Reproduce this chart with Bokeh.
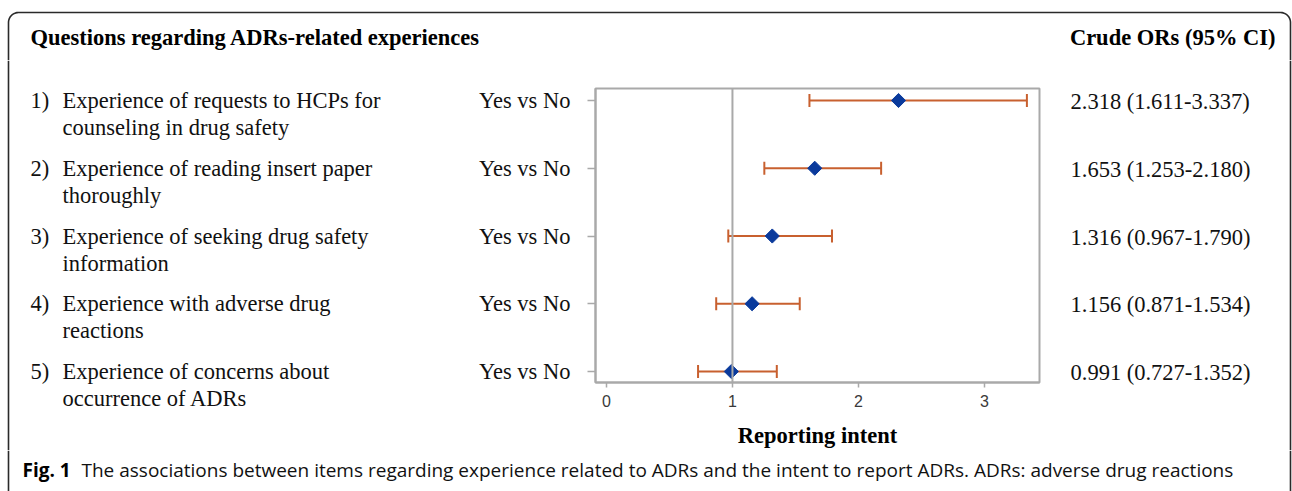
from bokeh.plotting import figure
from bokeh.layouts import column, row
from bokeh.models import Range1d, FixedTicker, LinearAxis, Span, ColumnDataSource
from bokeh.core.properties import value
from bokeh.embed import file_html
from bokeh.resources import INLINE
import math
import numpy as np

# ---------------- data ----------------
numbers = ["1)", "2)", "3)", "4)", "5)"]
question_line1 = [
    "Experience of requests to HCPs for",
    "Experience of reading insert paper",
    "Experience of seeking drug safety",
    "Experience with adverse drug",
    "Experience of concerns about",
]
question_line2 = [
    "counseling in drug safety",
    "thoroughly",
    "information",
    "reactions",
    "occurrence of ADRs",
]
comparison = ["Yes vs No", "Yes vs No", "Yes vs No", "Yes vs No", "Yes vs No"]
odds_ratio = [2.318, 1.653, 1.316, 1.156, 0.991]
ci_low = [1.611, 1.253, 0.967, 0.871, 0.727]
ci_high = [3.337, 2.180, 1.790, 1.534, 1.352]
x_ticks = [0, 1, 2, 3]
title_left = "Questions regarding ADRs-related experiences"
title_right = "Crude ORs (95% CI)"
x_label = "Reporting intent"
caption_bold = "Fig. 1"
caption_text = ("The associations between items regarding experience related to ADRs "
                "and the intent to report ADRs. ADRs: adverse drug reactions")

n = len(odds_ratio)
rows = [n - i for i in range(n)]  # item 1 at the top
or_text = ["%.3f (%.3f-%.3f)" % (o, l, h) for o, l, h in zip(odds_ratio, ci_low, ci_high)]
src = ColumnDataSource(dict(y=rows, o=odds_ratio, lo=ci_low, hi=ci_high))

SERIF = "Liberation Serif"
SANS = "Open Sans"
GRAY = "#a9a9a9"
ORANGE = "#c8602f"
BLUE = "#0a3a9c"
BORDER = "#2a2a2a"
FS = "22.5px"

# ---------------- geometry ----------------
TOTAL_W = 1292
TOP_H = 60            # header strip
MID_H = 390           # forest row
CAP_H = 41            # caption strip
LEFT_W = 470
FOREST_W = 580
RIGHT_W = TOTAL_W - LEFT_W - FOREST_W
F_TOP, F_BOTTOM = 28, 68          # forest frame borders inside the middle row
F_LEFT, F_RIGHT = 125, 11
Y0, Y1 = 0.838, 5.177
ppu = (MID_H - F_TOP - F_BOTTOM) / (Y1 - Y0)
Y_EXT = (Y0 - F_BOTTOM / ppu, Y1 + F_TOP / ppu)   # same mapping, full-height frame


def blank(w, h, xr, yr):
    f = figure(width=w, height=h, output_backend="svg", toolbar_location=None,
               x_range=xr, y_range=yr, min_border=0,
               x_axis_location=None, y_axis_location=None)
    f.frame_align = False
    f.grid.visible = False
    f.outline_line_color = None
    f.background_fill_color = "white"
    f.border_fill_color = "white"
    return f


def txt(f, x, y, t, size=FS, bold=False, align="left", font=SERIF, color="#111111",
        y_offset=0):
    f.text(x=x, y=y, text=t, text_font=value(font), text_font_size=size,
           text_font_style="bold" if bold else "normal", text_align=align,
           text_baseline="middle", text_color=color, y_offset=y_offset)


# ---------------- header strip ----------------
top = blank(TOTAL_W, TOP_H, Range1d(0, TOTAL_W), Range1d(TOP_H, 0))
txt(top, [30], [37], [title_left], bold=True, color="#000000")
txt(top, [1275], [37], [title_right], bold=True, align="right", color="#000000")
r = 10
a1 = np.linspace(math.pi, 1.5 * math.pi, 12)
a2 = np.linspace(1.5 * math.pi, 2 * math.pi, 12)
bx = np.concatenate([[8], 8 + r + r * np.cos(a1), 1290 - r + r * np.cos(a2), [1290]])
by = np.concatenate([[TOP_H], 12 + r + r * np.sin(a1), 12 + r + r * np.sin(a2), [TOP_H]])
top.line(bx, by, line_color=BORDER, line_width=1.6)

# ---------------- left text column ----------------
left = blank(LEFT_W, MID_H, Range1d(0, LEFT_W), Range1d(*Y_EXT))
txt(left, [30] * n, rows, numbers, y_offset=0)
txt(left, [62] * n, rows, question_line1, y_offset=0)
txt(left, [62] * n, rows, question_line2, y_offset=27)
left.segment(x0=[8], x1=[8], y0=[Y_EXT[0]], y1=[Y_EXT[1]], line_color=BORDER, line_width=1.6)

# ---------------- forest plot ----------------
p = figure(width=FOREST_W, height=MID_H, output_backend="svg", toolbar_location=None,
           x_range=Range1d(-0.087, 3.437), y_range=Range1d(Y0, Y1),
           min_border_left=F_LEFT, min_border_right=F_RIGHT,
           min_border_top=F_TOP, min_border_bottom=F_BOTTOM,
           x_axis_location=None, y_axis_location=None)
p.frame_align = False
p.grid.visible = False
p.outline_line_color = GRAY
p.outline_line_width = 2
p.background_fill_color = "white"
p.border_fill_color = "white"

xa = LinearAxis(ticker=FixedTicker(ticks=x_ticks), axis_label=x_label)
xa.axis_line_color = GRAY
xa.axis_line_width = 2
xa.major_tick_line_color = GRAY
xa.major_tick_line_width = 1.5
xa.major_tick_out = 5
xa.major_tick_in = 0
xa.minor_tick_line_color = None
xa.major_label_text_font = "Liberation Sans"
xa.major_label_text_font_size = "16px"
xa.major_label_text_color = "#3a3a3a"
xa.major_label_standoff = 7
xa.axis_label_text_font = SERIF
xa.axis_label_text_font_style = "bold"
xa.axis_label_text_font_size = FS
xa.axis_label_text_color = "#000000"
xa.axis_label_standoff = 13
p.add_layout(xa, "below")

ya = LinearAxis(ticker=FixedTicker(ticks=rows),
                major_label_overrides={rv: c for rv, c in zip(rows, comparison)})
ya.axis_line_color = GRAY
ya.axis_line_width = 2
ya.major_tick_line_color = GRAY
ya.major_tick_line_width = 1.5
ya.major_tick_out = 8
ya.major_tick_in = 0
ya.minor_tick_line_color = None
ya.major_label_text_font = SERIF
ya.major_label_text_font_size = FS
ya.major_label_text_color = "#111111"
ya.major_label_standoff = 17
p.add_layout(ya, "left")

p.add_layout(Span(location=1, dimension="height", line_color=GRAY, line_width=2))

p.segment(x0="lo", x1="hi", y0="y", y1="y", source=src, line_color=ORANGE, line_width=2)
p.scatter(x="lo", y="y", source=src, marker="dash", angle=math.pi / 2, size=13,
          line_color=ORANGE, line_width=2)
p.scatter(x="hi", y="y", source=src, marker="dash", angle=math.pi / 2, size=13,
          line_color=ORANGE, line_width=2)
p.scatter(x="o", y="y", source=src, marker="square", angle=math.pi / 4, size=10,
          fill_color=BLUE, line_color=BLUE)

# ---------------- right text column ----------------
right = blank(RIGHT_W, MID_H, Range1d(0, RIGHT_W), Range1d(*Y_EXT))
txt(right, [20] * n, rows, or_text, y_offset=1)
right.segment(x0=[RIGHT_W - 2], x1=[RIGHT_W - 2], y0=[Y_EXT[0]], y1=[Y_EXT[1]],
              line_color=BORDER, line_width=1.6)

# ---------------- caption strip ----------------
cap = blank(TOTAL_W, CAP_H, Range1d(0, TOTAL_W), Range1d(CAP_H, 0))
txt(cap, [22], [19], [caption_bold], size="19px", bold=True, font=SANS, color="#000000")
txt(cap, [81], [19], [caption_text], size="19px", font=SANS, color="#111111")
cap.segment(x0=[8, 1290], x1=[8, 1290], y0=[0, 0], y1=[CAP_H, CAP_H],
            line_color=BORDER, line_width=1.6)

layout = column(top, row(left, p, right, spacing=0), cap, spacing=0)
open("out.html", "w").write(file_html(layout, INLINE))
